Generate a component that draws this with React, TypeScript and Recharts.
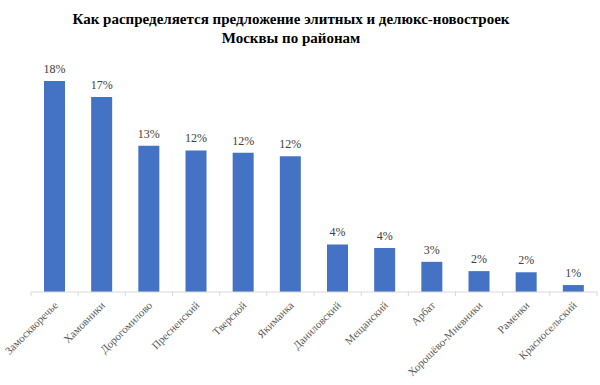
import { BarChart, Bar, XAxis, YAxis, LabelList } from "recharts";

const districts = [
  "Замоскворечье",
  "Хамовники",
  "Дорогомилово",
  "Пресненский",
  "Тверской",
  "Якиманка",
  "Даниловский",
  "Мещанский",
  "Арбат",
  "Хорошёво-Мневники",
  "Раменки",
  "Красносельский",
];

const shares = [18.2, 16.8, 12.6, 12.2, 12.0, 11.7, 4.1, 3.8, 2.6, 1.8, 1.7, 0.6];

const data = districts.map((name, i) => ({ name, share: shares[i] }));

const FONT = "Liberation Serif, Tinos, serif";
const BAND = 566 / districts.length;

const DistrictTick = (props: any) => {
  const { x, y, payload, index } = props;
  const last = index === districts.length - 1;
  return (
    <g>
      <line x1={x - BAND / 2} y1={y - 8} x2={x - BAND / 2} y2={y - 4} stroke="#d9d9d9" />
      {last && <line x1={x + BAND / 2} y1={y - 8} x2={x + BAND / 2} y2={y - 4} stroke="#d9d9d9" />}
      <text
        x={x + 4}
        y={y + 6}
        transform={`rotate(-45, ${x + 4}, ${y + 6})`}
        textAnchor="end"
        fill="#595959"
        style={{ fontFamily: FONT, fontSize: 11 }}
      >
        {payload.value}
      </text>
    </g>
  );
};

export default function App() {
  return (
    <div style={{ position: "absolute", left: 0, top: 0, width: 600, height: 385, background: "#fff" }}>
      <div
        style={{
          position: "absolute",
          left: 0,
          top: 10,
          width: 582,
          textAlign: "center",
          fontFamily: FONT,
          fontWeight: "bold",
          fontSize: 15,
          lineHeight: "19px",
          color: "#000",
        }}
      >
        Как распределяется предложение элитных и делюкс-новостроек
        <br />
        Москвы по районам
      </div>
      <BarChart
        width={600}
        height={385}
        data={data}
        margin={{ top: 60, right: 3, left: 31, bottom: 0 }}
        barSize={21}
        style={{ fontFamily: FONT }}
      >
        <YAxis hide domain={[0, 20]} />
        <XAxis
          dataKey="name"
          height={93}
          interval={0}
          axisLine={{ stroke: "#d9d9d9" }}
          tickLine={false}
          tick={<DistrictTick />}
        />
        <Bar dataKey="share" fill="#4472c4" isAnimationActive={false}>
          <LabelList
            dataKey="share"
            position="top"
            offset={8}
            formatter={(v: any) => `${Math.round(Number(v))}%`}
            fill="#404040"
            style={{ fontFamily: FONT, fontSize: 12 }}
          />
        </Bar>
      </BarChart>
    </div>
  );
}
